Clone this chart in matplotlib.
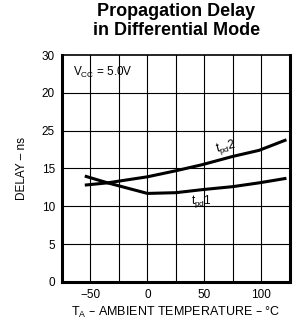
import numpy as np
import matplotlib.pyplot as plt

plt.rcParams['font.family'] = ['Liberation Sans', 'DejaVu Sans']

# curve data
temp = [-55, -35, 0, 25, 48, 75, 98, 122]
tpd2 = [12.8, 13.1, 13.9, 14.7, 15.5, 16.6, 17.4, 18.8]
tpd1 = [14.0, 13.1, 11.7, 11.8, 12.2, 12.6, 13.1, 13.7]

y_ticks = [0, 5, 10, 15, 20, 25, 30]
y_labels = ['0', '5', '10', '15', '25', '20', '30']  # as printed in the original
x_ticks = [-50, 0, 50, 100]
x_labels = ['\u221250', '0', '50', '100']


def main():
    fig = plt.figure(figsize=(3.01, 3.24), dpi=100)
    ax = fig.add_axes([0.206, 0.130, 0.757, 0.700])

    ax.plot(temp, tpd2, color='black', lw=2.2, solid_capstyle='butt')
    ax.plot(temp, tpd1, color='black', lw=2.2, solid_capstyle='butt')

    ax.set_xlim(-75, 125)
    ax.set_ylim(0, 30)

    for xv in np.arange(-50, 125, 25):
        ax.axvline(xv, color='black', lw=0.8)
    for yv in y_ticks[1:-1]:
        ax.axhline(yv, color='black', lw=0.8)

    ax.set_xticks(x_ticks)
    ax.set_xticklabels(x_labels)
    ax.set_yticks(y_ticks)
    ax.set_yticklabels(y_labels)
    ax.tick_params(length=0, labelsize=8.5, pad=5)

    for side in ['left', 'right', 'bottom']:
        ax.spines[side].set_linewidth(2.2)
    ax.spines['top'].set_linewidth(1.2)

    ax.text(-65, 27.2, r'V$_{\mathregular{CC}}$ = 5.0V', fontsize=8.5)
    ax.text(58, 17.2, r't$_{\mathregular{pd}}$2', fontsize=8.5, rotation=14)
    ax.text(38, 10.3, r't$_{\mathregular{pd}}$1', fontsize=8.5)

    ax.set_xlabel('T$_{\\mathregular{A}}$ \u2013 AMBIENT TEMPERATURE \u2013 \u00b0C', fontsize=9, labelpad=3)
    ax.set_ylabel('DELAY \u2013 ns', fontsize=8.5, labelpad=10)

    fig.suptitle('Propagation Delay\nin Differential Mode', x=0.585, y=0.99,
                 fontsize=13, fontweight='bold', linespacing=1.15)

    fig.savefig('out.png', dpi=100)


if __name__ == '__main__':
    main()
